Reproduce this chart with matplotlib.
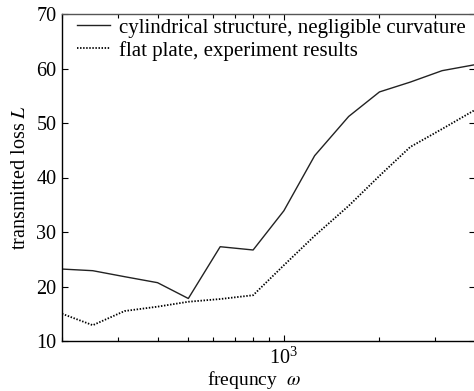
import matplotlib
matplotlib.use("Agg")
import matplotlib.pyplot as plt
from matplotlib.ticker import NullFormatter, LogLocator, FixedLocator

plt.rcParams['font.family'] = ['Liberation Serif', 'DejaVu Serif']
plt.rcParams['mathtext.fontset'] = 'stix'

freq = [200, 250, 315, 400, 500, 630, 800, 1000, 1250, 1600, 2000, 2500, 3150, 4000]
cylinder = [23.2, 22.9, 21.8, 20.7, 17.8, 27.3, 26.7, 33.9, 44.0, 51.2, 55.7, 57.5, 59.6, 60.7]
flat_plate = [15.0, 12.9, 15.5, 16.3, 17.2, 17.7, 18.4, 23.9, 29.3, 34.8, 40.3, 45.6, 48.9, 52.4]
labels = ['cylindrical structure, negligible curvature', 'flat plate, experiment results']
yticks = [10, 20, 30, 40, 50, 60, 70]

fig = plt.figure(figsize=(4.74, 3.91), dpi=100)
ax = fig.add_axes([62/474, 1-341/391, (475-62)/474, (341-14)/391])

ax.plot(freq, cylinder, color='#222222', lw=1.0, label=labels[0])
ax.plot(freq, flat_plate, color='black', lw=1.3, linestyle=(0, (0.8, 0.9)), label=labels[1])

ax.set_xscale('log')
ax.set_xlim(200, 4000)
ax.set_ylim(10, 70)
ax.set_yticks(yticks)
ax.xaxis.set_major_locator(FixedLocator([1000]))
ax.xaxis.set_minor_locator(LogLocator(base=10, subs=range(2, 10)))
ax.xaxis.set_minor_formatter(NullFormatter())

ax.tick_params(which='both', direction='in', top=True, right=True, labelsize=14.5, pad=4)
ax.tick_params(axis='x', which='both', pad=5)
ax.tick_params(which='major', length=4, width=0.8)
ax.tick_params(which='minor', length=3, width=0.8)
for s in ax.spines.values():
    s.set_linewidth(1.0)
ax.spines['top'].set_color('#555555')

ax.set_xlabel(r'frequncy  $\omega$', fontsize=14)
ax.xaxis.set_label_coords((254-62)/413, -0.087)
ax.set_ylabel(r'transmitted loss $L$', fontsize=14.5)
ax.yaxis.set_label_coords(-0.077, 0.5)

ax.legend(loc='upper left', bbox_to_anchor=(77/474, 1-18/391), bbox_transform=fig.transFigure,
          frameon=False, fontsize=15, borderpad=0, borderaxespad=0,
          handlelength=1.6, handletextpad=0.4, labelspacing=0.15)

fig.savefig('out.png', dpi=100)
